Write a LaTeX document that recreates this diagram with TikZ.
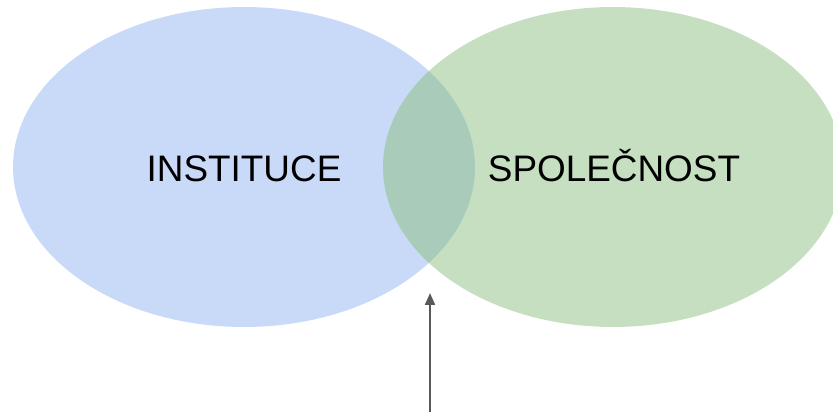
\documentclass[tikz,border=0pt]{standalone}
\usepackage{fontspec}
\setmainfont{Liberation Sans}
\usetikzlibrary{arrows.meta}
\definecolor{instblue}{HTML}{C9DAF8}
\definecolor{spolgreen}{HTML}{C6DFC0}
\definecolor{overlapgreen}{HTML}{A8CBBA}
\definecolor{arrowgray}{HTML}{595959}
\begin{document}
\begin{tikzpicture}[x=0.02cm,y=-0.02cm,
  setlabel/.style={font=\fontsize{21}{25}\selectfont,text=black,anchor=base,inner sep=0pt},
  pointer/.style={-{Triangle[length=0.24cm,width=0.2cm]},line width=1.1pt,color=arrowgray}]
\useasboundingbox (0,0) rectangle (833,412);
\clip (0,0) rectangle (833,412);
\fill[instblue] (244,167) ellipse (4.62cm and 3.2cm);
\fill[spolgreen] (613,167) ellipse (4.6cm and 3.2cm);
\begin{scope}
\clip (244,167) ellipse (4.62cm and 3.2cm);
\fill[overlapgreen] (613,167) ellipse (4.6cm and 3.2cm);
\end{scope}
\node[setlabel] (inst) at (244,182) {INSTITUCE};
\node[setlabel] (spol) at (614,182) {SPOLEČNOST};
\coordinate (foot) at (430,412);
\coordinate (tip) at (430,293);
\draw[pointer] (foot) -- (tip);
\end{tikzpicture}
\end{document}
